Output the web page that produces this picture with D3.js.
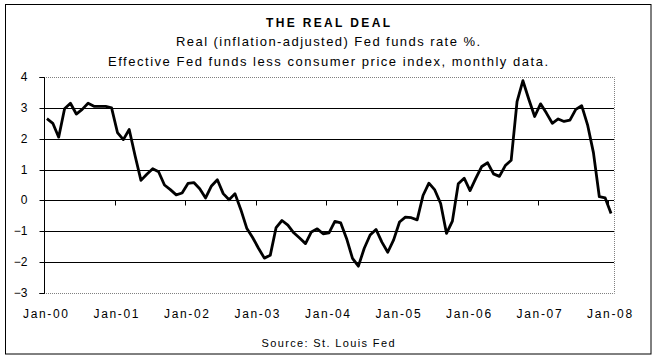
<!DOCTYPE html>
<html>
<head>
<meta charset="utf-8">
<script src="https://cdn.jsdelivr.net/npm/d3@7"></script>
<style>
  html, body { margin: 0; padding: 0; background: #fff; }
  svg { display: block; font-family: "Liberation Sans", Arial, sans-serif; }
</style>
</head>
<body>
<svg id="chart" width="657" height="358"></svg>
<script>
// ---- data ----
const titleText = "THE REAL DEAL";
const subtitle1 = "Real (inflation-adjusted) Fed funds rate %.";
const subtitle2 = "Effective Fed funds less consumer price index, monthly data.";
const sourceText = "Source: St. Louis Fed";

// monthly categories Jan-2000 .. Jan-2008
const months = d3.timeMonth.range(new Date(2000, 0, 1), new Date(2008, 1, 1));

// real Fed funds rate %, one value per month
const values = [
  2.65, 2.50, 2.05, 2.97, 3.15, 2.80, 2.95, 3.15, 3.05, 3.05, 3.05, 3.00, // 2000
  2.20, 1.97, 2.30, 1.45, 0.65, 0.85, 1.03, 0.93, 0.50, 0.35, 0.18, 0.24, // 2001
  0.55, 0.58, 0.38, 0.08, 0.47, 0.67, 0.22, 0.02, 0.22, -0.30, -0.90, -1.20, // 2002
  -1.55, -1.87, -1.78, -0.88, -0.65, -0.80, -1.05, -1.22, -1.40, -1.02, -0.92, -1.08, // 2003
  -1.05, -0.68, -0.73, -1.24, -1.88, -2.13, -1.55, -1.12, -0.94, -1.35, -1.68, -1.28, // 2004
  -0.70, -0.54, -0.56, -0.63, 0.16, 0.56, 0.34, -0.10, -1.07, -0.67, 0.54, 0.72, // 2005
  0.32, 0.72, 1.10, 1.22, 0.86, 0.78, 1.13, 1.30, 3.20, 3.88, 3.28, 2.72, // 2006
  3.13, 2.83, 2.50, 2.64, 2.56, 2.60, 2.95, 3.07, 2.45, 1.55, 0.12, 0.08, // 2007
  -0.42 // Jan-2008
];

const yTicks = [4, 3, 2, 1, 0, -1, -2, -3];
const xTickLabels = ["Jan-00", "Jan-01", "Jan-02", "Jan-03", "Jan-04", "Jan-05", "Jan-06", "Jan-07", "Jan-08"];

// ---- layout ----
const svg = d3.select("#chart");
const plot = { left: 44, right: 614, top: 77, bottom: 293 };

const x = d3.scaleBand()
  .domain(months.map(m => +m))
  .range([plot.left, plot.right])
  .paddingInner(0).paddingOuter(0);
const y = d3.scaleLinear().domain([-3, 4]).range([plot.bottom, plot.top]);
const xc = m => x(+m) + x.bandwidth() / 2;

// outer frame
svg.append("rect")
  .attr("x", 5.5).attr("y", 4.5)
  .attr("width", 645.5).attr("height", 349.5)
  .attr("fill", "none").attr("stroke", "#000").attr("stroke-width", 1);

// titles
svg.append("text").text(titleText)
  .attr("x", 328).attr("y", 27)
  .attr("text-anchor", "middle")
  .attr("font-size", 12).attr("font-weight", "bold")
  .attr("textLength", 124).attr("lengthAdjust", "spacing");
svg.append("text").text(subtitle1)
  .attr("x", 328).attr("y", 46)
  .attr("text-anchor", "middle")
  .attr("font-size", 13)
  .attr("textLength", 304).attr("lengthAdjust", "spacing");
svg.append("text").text(subtitle2)
  .attr("x", 328).attr("y", 66)
  .attr("text-anchor", "middle")
  .attr("font-size", 13)
  .attr("textLength", 440).attr("lengthAdjust", "spacing");

// plot border (dotted gray) top, right, bottom
const bw = svg.append("g");
bw.append("path")
  .attr("d", `M${plot.left},${y(4) + 0.5}H${plot.right + 0.5}V${y(-3) + 0.5}H${plot.left}`)
  .attr("fill", "none").attr("stroke", "#808080")
  .attr("stroke-width", 1).attr("stroke-dasharray", "1,1");

// gridlines
svg.append("g").selectAll("line")
  .data(yTicks.filter(t => t !== 4 && t !== -3))
  .join("line")
  .attr("x1", plot.left).attr("x2", plot.right)
  .attr("y1", d => Math.round(y(d)) + 0.5).attr("y2", d => Math.round(y(d)) + 0.5)
  .attr("stroke", "#000").attr("stroke-width", 1);

// y axis
const yAxis = d3.axisLeft(y).tickValues(yTicks).tickSize(5).tickPadding(12)
  .tickFormat(d3.format("d"));
const gy = svg.append("g")
  .attr("transform", `translate(${plot.left + 0.5},0.5)`)
  .call(yAxis);
gy.select(".domain").attr("stroke", "#000").attr("d", `M-5,${y(4)}H0V${y(-3)}H-5`);
gy.selectAll(".tick line").attr("stroke", "#000");
gy.selectAll(".tick text")
  .attr("font-family", "Liberation Sans, Arial, sans-serif")
  .attr("font-size", 12).attr("fill", "#000");
gy.selectAll(".tick").attr("transform", d => `translate(0,${Math.round(y(d))})`);

// x axis at zero with downward ticks
const janMonths = months.filter(m => m.getMonth() === 0);
const gx = svg.append("g").attr("transform", `translate(0,${Math.round(y(0)) + 0.5})`);
gx.selectAll("line.tick")
  .data(janMonths.slice(1))
  .join("line")
  .attr("class", "tick")
  .attr("x1", d => Math.round(x(+d)) + 0.5).attr("x2", d => Math.round(x(+d)) + 0.5)
  .attr("y1", 0).attr("y2", 5)
  .attr("stroke", "#000");

// x tick labels at the bottom
svg.append("g").selectAll("text")
  .data(janMonths)
  .join("text")
  .attr("x", d => x(+d) + 1.5)
  .attr("y", 318)
  .attr("text-anchor", "middle")
  .attr("font-size", 12)
  .attr("textLength", 45).attr("lengthAdjust", "spacing")
  .text((d, i) => xTickLabels[i]);

// data line
const line = d3.line()
  .x((d, i) => xc(months[i]))
  .y(d => y(d));
svg.append("path")
  .datum(values)
  .attr("d", line)
  .attr("fill", "none")
  .attr("stroke", "#000")
  .attr("stroke-width", 2.8)
  .attr("stroke-linejoin", "round");

// source
svg.append("text").text(sourceText)
  .attr("x", 328).attr("y", 347)
  .attr("text-anchor", "middle")
  .attr("font-size", 11)
  .attr("textLength", 133).attr("lengthAdjust", "spacing");
</script>
</body>
</html>
